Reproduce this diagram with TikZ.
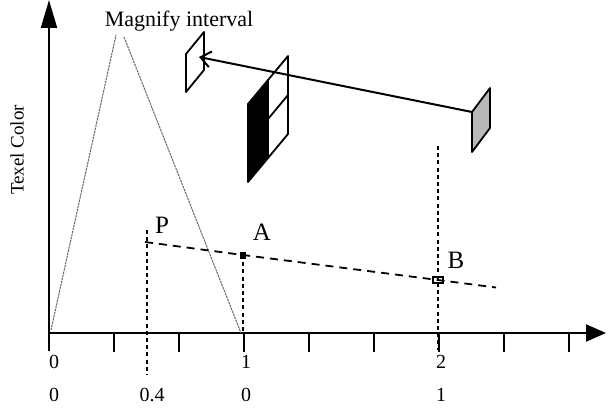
\documentclass[tikz,border=0pt]{standalone}
\usepackage{fontspec}
\setmainfont{Liberation Serif}
\usetikzlibrary{arrows.meta}

\begin{document}
\begin{tikzpicture}[x=0.5pt,y=-0.5pt,line width=0.6pt,
  axis/.style={line width=1pt},
  guide/.style={line width=0.9pt,dash pattern=on 2pt off 1.6pt},
  interp/.style={line width=0.9pt,dash pattern=on 4pt off 3pt},
  hat/.style={gray!80!black,line width=0.5pt,dash pattern=on 1.2pt off 0.4pt},
  texel/.style={line width=0.9pt,line join=round},
  lbl/.style={font=\fontsize{11}{13}\selectfont,anchor=base},
  pt/.style={font=\fontsize{12.5}{14}\selectfont,anchor=base}]
  \useasboundingbox (0,0) rectangle (608,411);
  \draw[axis,-{Triangle[length=14pt,width=8pt]}] (49,351) -- (49,0);
  \draw[axis,-{Triangle[length=10pt,width=8.5pt]}] (49,333) -- (606,333);
  \foreach \k in {1,...,8}
    \draw[axis] (49+65*\k,333) -- (49+65*\k,352);
  \node[rotate=90,font=\fontsize{9.5}{11}\selectfont] (ylabel) at (17,150) {Texel Color};
  \foreach \x/\t/\n in {54/0/0,246/1/1,441/2/2}
    \node (upper\n) at (\x,362) {\t};
  \foreach \x/\t/\n in {54/0/a,152/0.4/b,246/0/c,441/1/d}
    \node (lower\n) at (\x,395) {\t};
  \draw[hat] (51,330) -- (116,35);
  \draw[hat] (124,37) -- (241,333);
  \node[lbl] (magnify) at (179,27) {Magnify interval};
  \coordinate (pP) at (145,242);
  \coordinate (pA) at (243,255);
  \coordinate (pB) at (438,280);
  \coordinate (pEnd) at (496,287.5);
  \draw[interp] (pP) -- (pA) -- (pB) -- (pEnd);
  \draw[guide] (147,230) -- (147,375);
  \draw[guide] (pA) -- (243,333);
  \draw[guide] (438,146) -- (438,350);
  \fill (pA) ++(-3,-3.5) rectangle ++(6,7);
  \draw[line width=0.8pt] (pB) ++(-5,-3) rectangle ++(10,6);
  \node[pt] (labP) at (162,233) {P};
  \node[pt] (labA) at (262,240) {A};
  \node[pt] (labB) at (456,268) {B};
  \draw[texel] (186,92) -- (186,54) -- (204,32) -- (204,70) -- cycle;
  \fill (248,182) -- (248,104) -- (268,80) -- (268,158) -- cycle;
  \draw[texel] (248,182) -- (248,104) -- (268,80) -- (268,158) -- cycle;
  \draw[texel] (268,158) -- (268,80) -- (288,56) -- (288,134) -- cycle;
  \draw[texel] (268,119) -- (288,95);
  \draw[texel,fill=gray!55] (472,152) -- (472,112) -- (490,88) -- (490,128) -- cycle;
  \coordinate (src) at (472,112);
  \coordinate (dst) at (199,57);
  \draw[line width=1pt,-{Straight Barb[length=5pt,width=8pt]}] (src) -- (dst);
\end{tikzpicture}
\end{document}
